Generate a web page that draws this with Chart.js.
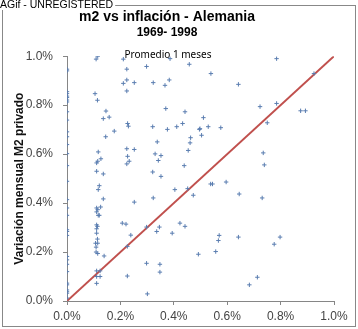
<!DOCTYPE html>
<html>
<head>
<meta charset="utf-8">
<script src="https://cdn.jsdelivr.net/npm/chart.js@4"></script>
<style>
  html, body { margin: 0; padding: 0; background: #fff; }
  #wrap { width: 358px; height: 329px; position: relative; }
</style>
</head>
<body>
<div id="wrap"><canvas id="scatterChart"></canvas></div>
<script>
// Monthly inflation (x, %) vs monthly private M2 change (y, %)
const inflacion = [
  0, 0, 0, 0, 0, 0, 0, 0, 0, 0, 0, 0, 0, 0, 0, 0,
  0, 0, 0, 0, 0, 0, 0, 0, 0, 0, 0, 0, 0, 0, 0, 0,
  0.109, 0.115, 0.105, 0.114, 0.117, 0.111, 0.115, 0.127, 0.111, 0.136, 0.121, 0.117,
  0.136, 0.111, 0.115, 0.126, 0.111, 0.117, 0.121, 0.111, 0.114, 0.111, 0.111, 0.114,
  0.107, 0.115, 0.109, 0.109, 0.115, 0.139, 0.111, 0.124, 0.111, 0.124, 0.111,
  0.146, 0.136, 0.158, 0.177, 0.145,
  0.211, 0.224, 0.298, 0.386, 0.458, 0.211, 0.224, 0.252, 0.323, 0.367, 0.383, 0.224,
  0.227, 0.230, 0.370, 0.442, 0.321, 0.376, 0.411, 0.433, 0.496, 0.338, 0.463, 0.461,
  0.454, 0.224, 0.252, 0.227, 0.224, 0.233, 0.330, 0.352, 0.342, 0.321, 0.352, 0.439,
  0.539, 0.642, 0.785, 0.925, 0.723, 0.785, 0.875, 0.893, 0.511, 0.498, 0.529, 0.576,
  0.504, 0.750, 0.735, 0.739,
  0.252, 0.323, 0.404, 0.452, 0.473, 0.207, 0.221, 0.239, 0.226, 0.298, 0.346, 0.336,
  0.394, 0.423, 0.442, 0.492, 0.298, 0.348, 0.348, 0.226, 0.301,
  0.538, 0.545, 0.596, 0.645, 0.731, 0.570, 0.567, 0.642, 0.798, 0.776, 0.557, 0.713, 0.683
];
const m2Privado = [
  0.947, 0.940, 0.855, 0.847, 0.837, 0.831, 0.821, 0.813, 0.773, 0.739, 0.691, 0.671, 0.639, 0.602, 0.553, 0.489,
  0.414, 0.380, 0.350, 0.291, 0.284, 0.268, 0.182, 0.168, 0.150, 0.120, 0.073, 0.066, 0.045, 0.038, 0.032, 0.012,
  0.988, 0.999, 0.847, 0.820, 0.609, 0.564, 0.571, 0.581, 0.530, 0.519, 0.471, 0.455,
  0.417, 0.380, 0.373, 0.384, 0.364, 0.350, 0.350, 0.311, 0.305, 0.295, 0.277, 0.253,
  0.236, 0.236, 0.220, 0.200, 0.194, 0.184, 0.123, 0.123, 0.100, 0.100, 0.072,
  0.776, 0.745, 0.751, 0.694, 0.671,
  0.988, 0.947, 0.958, 0.990, 0.967, 0.889, 0.903, 0.892, 0.892, 0.881, 0.903, 0.858,
  0.725, 0.714, 0.786, 0.773, 0.712, 0.701, 0.712, 0.725, 0.701, 0.650, 0.667, 0.646,
  0.615, 0.622, 0.619, 0.591, 0.560, 0.571, 0.601, 0.594, 0.574, 0.527, 0.509, 0.553,
  0.929, 0.885, 0.990, 0.929, 0.794, 0.807, 0.777, 0.777, 0.749, 0.704, 0.712, 0.708,
  0.677, 0.728, 0.605, 0.556,
  0.404, 0.421, 0.455, 0.459, 0.432, 0.318, 0.314, 0.269, 0.223, 0.302, 0.302, 0.284,
  0.277, 0.318, 0.305, 0.191, 0.154, 0.150, 0.118, 0.102, 0.029,
  0.478, 0.478, 0.486, 0.437, 0.421, 0.268, 0.247, 0.261, 0.261, 0.232, 0.202, 0.097, 0.066
];
// 45 degree reference line
const lineaX = [0, 1];
const lineaY = [0, 1];
const axisTicks = [0, 0.2, 0.4, 0.6, 0.8, 1.0];

const puntos = inflacion.map(function (x, i) { return { x: x, y: m2Privado[i] }; });
const linea = lineaX.map(function (x, i) { return { x: x, y: lineaY[i] }; });

// frame, watermark and the small caption
const extrasPlugin = {
  id: 'extras',
  beforeDraw: function (chart) {
    const ctx = chart.ctx;
    ctx.save();
    ctx.fillStyle = '#fff';
    ctx.fillRect(0, 0, chart.width, chart.height);
    ctx.strokeStyle = '#888';
    ctx.lineWidth = 1;
    ctx.strokeRect(2.5, 5.5, 353, 321);
    ctx.restore();
  },
  afterDraw: function (chart) {
    const ctx = chart.ctx;
    const area = chart.chartArea;
    ctx.save();
    ctx.font = '10px "Noto Sans"';
    ctx.fillStyle = '#000';
    ctx.textAlign = 'center';
    ctx.textBaseline = 'middle';
    ctx.fillText('Promedio 1 meses', 168, area.top - 1);
    ctx.font = '10.5px "Liberation Sans"';
    ctx.textAlign = 'left';
    ctx.textBaseline = 'top';
    const w = ctx.measureText('AGif - UNREGISTERED').width;
    ctx.fillStyle = '#fff';
    ctx.fillRect(0, 0, w + 2, 10);
    ctx.fillStyle = '#000';
    ctx.fillText('AGif - UNREGISTERED', 0, 0);
    ctx.restore();
  }
};

function pct(v) { return v.toFixed(1) + '%'; }

new Chart(document.getElementById('scatterChart').getContext('2d'), {
  type: 'scatter',
  data: {
    datasets: [{
      data: puntos,
      pointStyle: 'cross',
      pointRadius: 2.2,
      pointBorderWidth: 1,
      borderColor: '#5a7db0',
      backgroundColor: '#5a7db0'
    }, {
      type: 'line',
      data: linea,
      borderColor: '#c0504d',
      borderWidth: 2,
      pointRadius: 0,
      fill: false
    }]
  },
  options: {
    responsive: true,
    maintainAspectRatio: false,
    animation: false,
    layout: { padding: { left: 0, right: 24, top: 0, bottom: 0 } },
    plugins: {
      legend: { display: false },
      tooltip: { enabled: false },
      title: {
        display: true,
        text: 'm2 vs inflación - Alemania',
        color: '#000',
        font: { family: 'Liberation Sans', size: 14, weight: 'bold' },
        padding: { top: 9, bottom: 0 }
      },
      subtitle: {
        display: true,
        text: '1969- 1998',
        color: '#000',
        font: { family: 'Liberation Sans', size: 12, weight: 'bold' },
        padding: { top: 0, bottom: 16 }
      }
    },
    scales: {
      x: {
        type: 'linear',
        min: 0,
        max: 1,
        afterFit: function (s) { s.height = 28; },
        afterBuildTicks: function (s) { s.ticks = axisTicks.map(function (v) { return { value: v }; }); },
        grid: { drawOnChartArea: false, drawTicks: true, tickLength: 4, color: '#868686' },
        border: { display: true, color: '#868686' },
        ticks: {
          callback: pct,
          color: '#444',
          padding: 4,
          maxRotation: 0,
          font: { family: 'Liberation Sans', size: 12 }
        }
      },
      y: {
        type: 'linear',
        min: 0,
        max: 1,
        afterFit: function (s) { s.width = 67; },
        afterBuildTicks: function (s) { s.ticks = axisTicks.map(function (v) { return { value: v }; }); },
        grid: { drawOnChartArea: false, drawTicks: true, tickLength: 4, color: '#868686' },
        border: { display: true, color: '#868686' },
        title: {
          display: true,
          text: 'Variación mensual M2 privado',
          color: '#111',
          font: { family: 'Liberation Sans', size: 12, weight: 'bold' },
          padding: { top: 12, bottom: 0 }
        },
        ticks: {
          callback: pct,
          color: '#444',
          padding: 10,
          font: { family: 'Liberation Sans', size: 12 }
        }
      }
    }
  },
  plugins: [extrasPlugin]
});
</script>
</body>
</html>
